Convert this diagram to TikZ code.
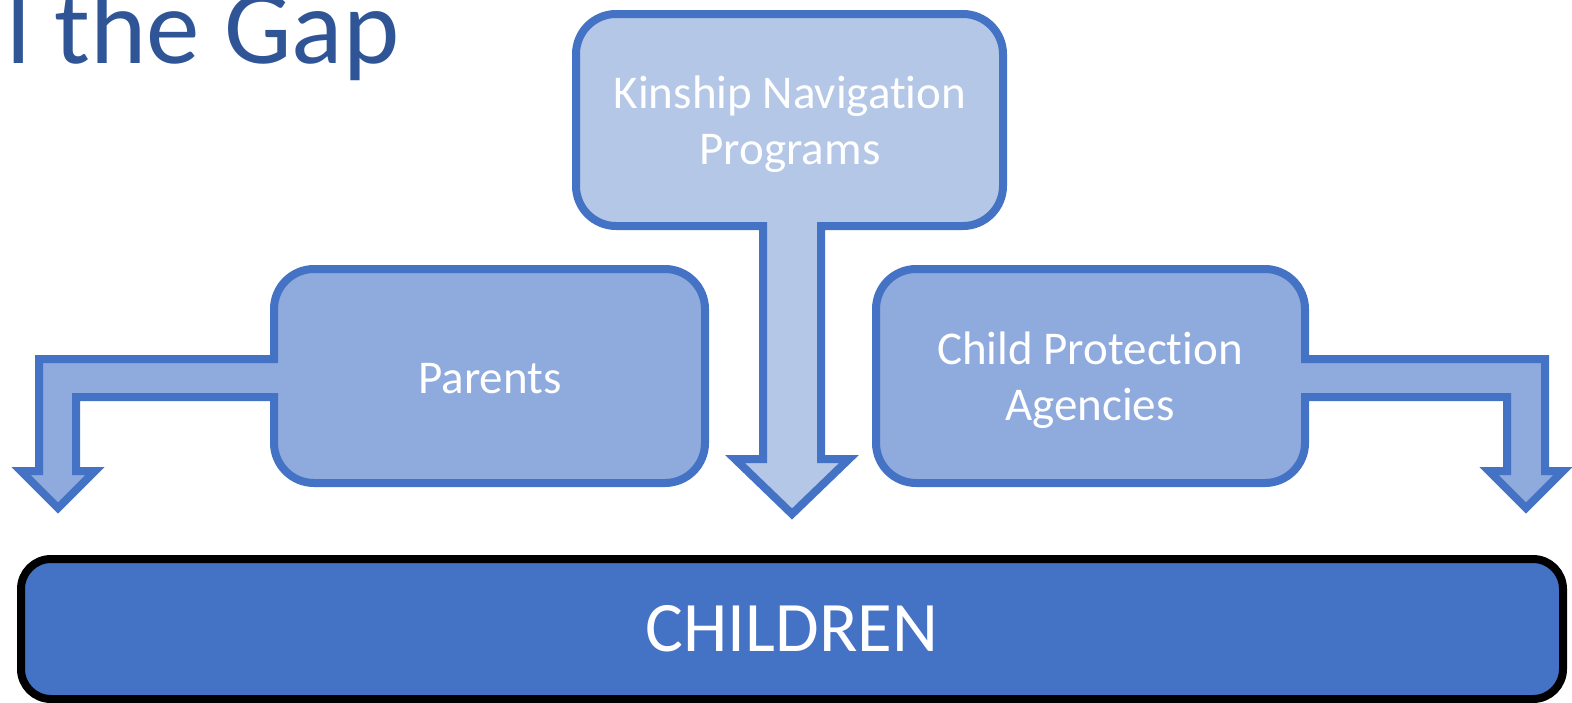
\documentclass[tikz,border=0pt]{standalone}
\usepackage{fontspec}
\setmainfont{Carlito}[Ligatures=NoCommon]
\definecolor{strokeblue}{HTML}{4472C4}
\definecolor{lightfill}{HTML}{B4C7E7}
\definecolor{midfill}{HTML}{8FAADC}
\definecolor{titleblue}{HTML}{2F5597}
\tikzset{
  callout/.style={draw=strokeblue, line width=8pt, line join=miter},
  boxtext/.style={text=white, align=center, inner sep=0pt, font=\fontsize{47}{56}\selectfont},
}
\begin{document}
\begin{tikzpicture}[x=1pt,y=-1pt]
\useasboundingbox (0,0) rectangle (1572,702);
% title
\node[anchor=base west, inner sep=0pt, text=titleblue, font=\fontsize{107}{117}\selectfont] (title) at (6,63) {l the Gap};
% top callout
\path[callout, fill=lightfill] (616,14) -- (963,14) .. controls (985,14) and (1003,32) .. (1003,54) -- (1003,186) .. controls (1003,208) and (985,226) .. (963,226) -- (821,226) -- (821,459) -- (849,459) -- (792,514) -- (735,459) -- (763,459) -- (763,226) -- (616,226) .. controls (594,226) and (576,208) .. (576,186) -- (576,54) .. controls (576,32) and (594,14) .. (616,14) -- cycle;
% left callout
\path[callout, fill=midfill] (314,269) -- (665,269) .. controls (687,269) and (705,287) .. (705,309) -- (705,443) .. controls (705,465) and (687,483) .. (665,483) -- (314,483) .. controls (292,483) and (274,465) .. (274,443) -- (274,397) -- (76,397) -- (76,471) -- (95,471) -- (58,508) -- (21,471) -- (39,471) -- (39,359) -- (274,359) -- (274,309) .. controls (274,287) and (292,269) .. (314,269) -- cycle;
% right callout
\path[callout, fill=midfill] (916,269) -- (1265,269) .. controls (1287,269) and (1305,287) .. (1305,309) -- (1305,359) -- (1545,359) -- (1545,471) -- (1563,471) -- (1526,508) -- (1489,471) -- (1507,471) -- (1507,397) -- (1305,397) -- (1305,443) .. controls (1305,465) and (1287,483) .. (1265,483) -- (916,483) .. controls (894,483) and (876,465) .. (876,443) -- (876,309) .. controls (876,287) and (894,269) .. (916,269) -- cycle;
% texts
\node[boxtext] (kinship) at (790,124) {Kinship Navigation\\Programs};
\node[boxtext] (parents) at (490,379) {Parents};
\node[boxtext] (cpa) at (1090,380) {Child Protection\\Agencies};
% children
\node[draw=black, line width=8pt, fill=strokeblue, rounded corners=30pt, minimum width=1542pt, minimum height=140pt, inner sep=0pt, text=white, font=\fontsize{71}{80}\selectfont] (children) at (792,629) {CHILDREN};
\end{tikzpicture}
\end{document}
